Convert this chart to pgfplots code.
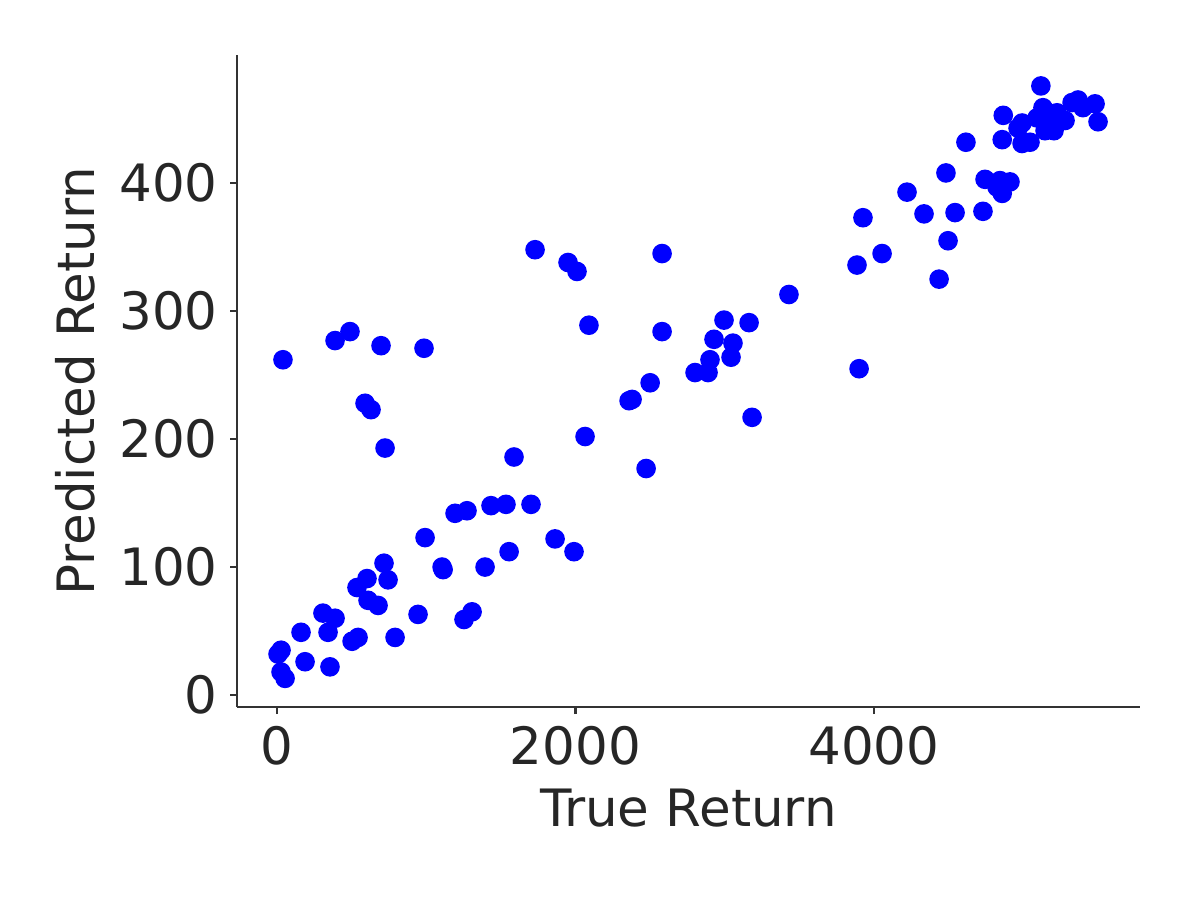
\documentclass[border=0pt]{standalone}
\usepackage{fontspec}
\setmainfont{DejaVu Sans}
\usepackage{pgfplots}
\pgfplotsset{compat=1.18}
\definecolor{txt}{HTML}{262626}
\definecolor{spine}{HTML}{333333}

\begin{document}
\begin{tikzpicture}
\path (0,0) rectangle (12cm,9cm);
\begin{axis}[
  at={(2.378cm,1.906cm)}, anchor=south west,
  scale only axis, width=9.06cm, height=6.54cm,
  xmin=-268, xmax=5782, ymin=-9.4, ymax=500,
  axis x line*=bottom, axis y line*=left,
  axis line style={spine, line width=0.6pt, -},
  xtick={0,2000,4000}, ytick={0,100,200,300,400},
  scaled x ticks=false,
  /pgf/number format/1000 sep={},
  /pgf/number format/assume math mode=true,
  tick align=outside, major tick length=0.07cm,
  tick style={spine, line width=0.6pt},
  tick label style={font=\fontsize{14.7}{17}\selectfont, text=txt},
  label style={font=\fontsize{14.7}{17}\selectfont, text=txt},
  xlabel={True Return}, ylabel={Predicted Return},
  clip=false,
]
\addplot[only marks, mark=*, mark size=2.6pt, color=blue, mark options={draw=blue, fill=blue}] coordinates {
(40,262)(389,277)(489,284)(697,273)(985,271)(590,228)(630,223)(724,193)
(1729,348)(1950,338)(2010,331)(2580,345)(2090,289)(2580,284)(2064,202)
(1588,186)(1702,149)(1534,149)(1434,148)(1193,142)(1273,144)(992,123)
(1106,100)(1113,98)(1394,100)(1555,112)(1863,122)(1990,112)(1307,65)
(1253,59)(945,63)(791,45)(717,103)(744,90)(603,91)(536,84)(610,74)
(677,70)(308,64)(389,60)(342,49)(161,49)(543,45)(503,42)(27,35)(7,32)
(188,26)(355,22)(27,18)(54,13)
(2500,244)(2379,231)(2359,230)(2473,177)(2801,252)(2888,252)(2901,262)
(2928,278)(2995,293)(3055,275)(3042,264)(3163,291)(3183,217)(3430,313)
(3886,336)(3926,373)(3900,255)(4054,345)(4221,393)(4335,376)(4436,325)
(4482,408)(4496,355)(4543,377)(4616,432)(4730,378)(4744,403)(4844,402)
(4911,401)(4824,397)(4859,392)
(5118,476)(4866,453)(4859,434)(4992,447)(4965,443)(4992,431)(5045,432)
(5132,459)(5092,451)(5146,441)(5206,441)(5226,455)(5280,449)(5327,463)
(5367,465)(5400,459)(5481,462)(5501,448)(5166,455)
};
\end{axis}
\end{tikzpicture}
\end{document}
